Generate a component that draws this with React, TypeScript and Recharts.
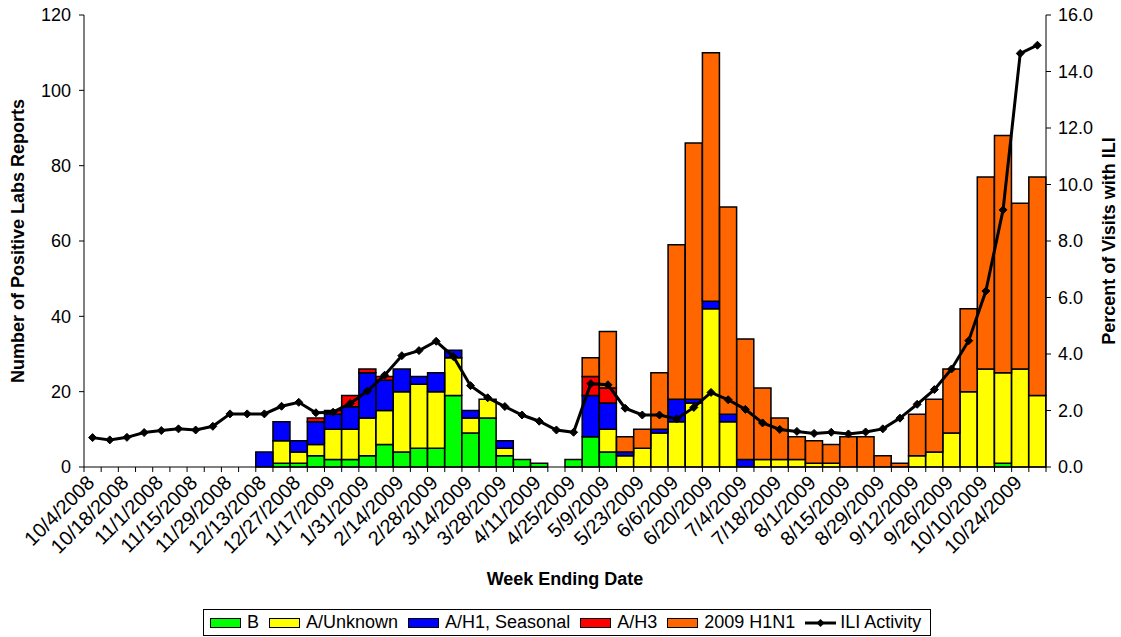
import React from "react";
import {
  ComposedChart,
  Bar,
  Line,
  XAxis,
  YAxis,
  Legend,
  Label,
} from "recharts";

const DATES = [
  "10/4/2008", "10/11/2008", "10/18/2008", "10/25/2008", "11/1/2008", "11/8/2008",
  "11/15/2008", "11/22/2008", "11/29/2008", "12/6/2008", "12/13/2008", "12/20/2008",
  "12/27/2008", "1/10/2009", "1/17/2009", "1/24/2009", "1/31/2009", "2/7/2009",
  "2/14/2009", "2/21/2009", "2/28/2009", "3/7/2009", "3/14/2009", "3/21/2009",
  "3/28/2009", "4/4/2009", "4/11/2009", "4/18/2009", "4/25/2009", "5/2/2009",
  "5/9/2009", "5/16/2009", "5/23/2009", "5/30/2009", "6/6/2009", "6/13/2009",
  "6/20/2009", "6/27/2009", "7/4/2009", "7/11/2009", "7/18/2009", "7/25/2009",
  "8/1/2009", "8/8/2009", "8/15/2009", "8/22/2009", "8/29/2009", "9/5/2009",
  "9/12/2009", "9/19/2009", "9/26/2009", "10/3/2009", "10/10/2009", "10/17/2009",
  "10/24/2009", "10/31/2009",
];

const B_VALUES = [
  0, 0, 0, 0, 0, 0, 0, 0, 0, 0, 0, 1, 1, 3, 2, 2, 3, 6, 4, 5, 5, 19, 9, 13, 3, 2, 1, 0,
  2, 8, 4, 0, 0, 0, 0, 0, 0, 0, 0, 0, 0, 0, 0, 0, 0, 0, 0, 0, 0, 0, 0, 0, 0, 1, 0, 0,
];
const A_UNKNOWN = [
  0, 0, 0, 0, 0, 0, 0, 0, 0, 0, 0, 6, 3, 3, 8, 8, 10, 9, 16, 17, 15, 10, 4, 5, 2, 0, 0, 0,
  0, 0, 6, 3, 5, 9, 12, 17, 42, 12, 0, 2, 2, 2, 1, 1, 0, 0, 0, 0, 3, 4, 9, 20, 26, 24, 26, 19,
];
const A_H1_SEASONAL = [
  0, 0, 0, 0, 0, 0, 0, 0, 0, 0, 4, 5, 3, 6, 4, 6, 12, 8, 6, 2, 5, 2, 2, 0, 2, 0, 0, 0,
  0, 11, 7, 1, 0, 1, 6, 1, 2, 2, 2, 0, 0, 0, 0, 0, 0, 0, 0, 0, 0, 0, 0, 0, 0, 0, 0, 0,
];
const A_H3 = [
  0, 0, 0, 0, 0, 0, 0, 0, 0, 0, 0, 0, 0, 1, 1, 3, 1, 1, 0, 0, 0, 0, 0, 0, 0, 0, 0, 0,
  0, 5, 4, 0, 0, 0, 0, 0, 0, 0, 0, 0, 0, 0, 0, 0, 0, 0, 0, 0, 0, 0, 0, 0, 0, 0, 0, 0,
];
const H1N1_2009 = [
  0, 0, 0, 0, 0, 0, 0, 0, 0, 0, 0, 0, 0, 0, 0, 0, 0, 0, 0, 0, 0, 0, 0, 0, 0, 0, 0, 0,
  0, 5, 15, 4, 5, 15, 41, 68, 66, 55, 32, 19, 11, 6, 6, 5, 8, 8, 3, 1, 11, 14, 17, 22, 51, 63, 44, 58,
];
const ILI = [
  1.04, 0.96, 1.05, 1.22, 1.29, 1.35, 1.31, 1.44, 1.88, 1.88, 1.88, 2.15, 2.29, 1.92,
  1.94, 2.25, 2.69, 3.25, 3.94, 4.12, 4.45, 3.91, 2.88, 2.45, 2.14, 1.84, 1.62, 1.31,
  1.23, 2.95, 2.91, 2.08, 1.84, 1.84, 1.7, 2.11, 2.64, 2.38, 2.04, 1.56, 1.33, 1.26,
  1.19, 1.23, 1.17, 1.24, 1.35, 1.73, 2.22, 2.74, 3.47, 4.47, 6.23, 9.1, 14.64, 14.93,
];

const LEFT_TICKS = [0, 20, 40, 60, 80, 100, 120];
const RIGHT_TICKS = [0, 2, 4, 6, 8, 10, 12, 14, 16];

const SERIES = [
  { key: "b", name: "B", color: "#00FF00" },
  { key: "unk", name: "A/Unknown", color: "#FFFF00" },
  { key: "h1", name: "A/H1, Seasonal", color: "#0000FF" },
  { key: "h3", name: "A/H3", color: "#FF0000" },
  { key: "pdm", name: "2009 H1N1", color: "#FF6600" },
];

const data = DATES.map((d, i) => ({
  date: d,
  b: B_VALUES[i],
  unk: A_UNKNOWN[i],
  h1: A_H1_SEASONAL[i],
  h3: A_H3[i],
  pdm: H1N1_2009[i],
  ili: ILI[i],
}));

const FONT = "'Liberation Sans', Arial, Helvetica, sans-serif";
const CHART_W = 1121;
const CHART_H = 637;
const LEFT_W = 84;
const RIGHT_W = 75;
const STEP = (CHART_W - LEFT_W - RIGHT_W) / DATES.length;

const XTick = (props: any) => {
  const { x, y, payload } = props;
  const i = payload.index;
  const half = STEP / 2;
  const tx = x - 2;
  const ty = y + 12;
  return (
    <g>
      <line x1={x - half} y1={y} x2={x - half} y2={y + 5} stroke="#000" strokeWidth={1} />
      {i === DATES.length - 1 && (
        <line x1={x + half} y1={y} x2={x + half} y2={y + 5} stroke="#000" strokeWidth={1} />
      )}
      {i % 2 === 0 && (
        <text
          x={tx}
          y={ty}
          dy="0.35em"
          transform={`rotate(-45 ${tx} ${ty})`}
          textAnchor="end"
          fontSize={20}
          fontFamily={FONT}
          fill="#000"
        >
          {payload.value}
        </text>
      )}
    </g>
  );
};

const Diamond = (props: any) => {
  const { cx, cy } = props;
  if (cx == null || cy == null) return null;
  const s = 4;
  return (
    <polygon
      points={`${cx},${cy - s} ${cx + s},${cy} ${cx},${cy + s} ${cx - s},${cy}`}
      fill="#000"
      stroke="#000"
    />
  );
};

const LegendContent = () => (
  <div
    style={{
      boxSizing: "border-box",
      width: 728,
      height: 27,
      border: "1px solid #000",
      display: "flex",
      alignItems: "center",
      paddingLeft: 6,
      fontFamily: FONT,
      fontSize: 18,
      color: "#000",
      background: "#fff",
      whiteSpace: "nowrap",
    }}
  >
    {SERIES.map((s) => (
      <div key={s.key} style={{ display: "flex", alignItems: "center", marginRight: 10 }}>
        <span
          style={{
            display: "inline-block",
            boxSizing: "border-box",
            width: 31,
            height: 10,
            background: s.color,
            border: "1.5px solid #000",
            marginRight: 6,
          }}
        />
        <span>{s.name}</span>
      </div>
    ))}
    <div style={{ display: "flex", alignItems: "center" }}>
      <svg width={31} height={12} style={{ marginRight: 4 }}>
        <line x1={0} y1={6} x2={31} y2={6} stroke="#000" strokeWidth={3} />
        <polygon points="15.5,2 19.5,6 15.5,10 11.5,6" fill="#000" />
      </svg>
      <span>ILI Activity</span>
    </div>
  </div>
);

const LeftTitle = (props: any) => {
  const vb = props.viewBox || {};
  const x = 18;
  const y = (vb.y ?? 15) + (vb.height ?? 452) / 2;
  return (
    <text
      x={x}
      y={y}
      dy="0.35em"
      transform={`rotate(-90 ${x} ${y})`}
      textAnchor="middle"
      fontSize={18}
      fontWeight="bold"
      fontFamily={FONT}
      fill="#000"
    >
      Number of Positive Labs Reports
    </text>
  );
};

const RightTitle = (props: any) => {
  const vb = props.viewBox || {};
  const x = 1109;
  const y = (vb.y ?? 15) + (vb.height ?? 452) / 2;
  return (
    <text
      x={x}
      y={y}
      dy="0.35em"
      transform={`rotate(-90 ${x} ${y})`}
      textAnchor="middle"
      fontSize={18}
      fontWeight="bold"
      fontFamily={FONT}
      fill="#000"
    >
      Percent of Visits with ILI
    </text>
  );
};

export default function App() {
  return (
    <div
      style={{
        position: "absolute",
        left: 0,
        top: 0,
        width: CHART_W,
        height: CHART_H,
        background: "#fff",
        fontFamily: FONT,
      }}
    >
      <ComposedChart
        width={CHART_W}
        height={CHART_H}
        data={data}
        margin={{ top: 15, right: 0, left: 0, bottom: 50 }}
        barCategoryGap={0}
        barGap={0}
      >
        <XAxis
          xAxisId={0}
          dataKey="date"
          height={120}
          interval={0}
          tickSize={0}
          tickMargin={0}
          tickLine={false}
          tick={<XTick />}
          axisLine={{ stroke: "#000", strokeWidth: 1 }}
        >
          <Label
            value="Week Ending Date"
            position="insideBottom"
            offset={2}
            style={{ fontSize: 18, fontWeight: "bold", fontFamily: FONT, fill: "#000" }}
          />
        </XAxis>
        <XAxis
          xAxisId="top"
          orientation="top"
          dataKey="date"
          height={0}
          tick={false}
          tickLine={false}
          axisLine={{ stroke: "#000", strokeWidth: 1 }}
        />
        <YAxis
          yAxisId="left"
          width={LEFT_W}
          domain={[0, 120]}
          ticks={LEFT_TICKS}
          interval={0}
          tickSize={5}
          tickMargin={8}
          tick={{ fontSize: 18, fill: "#000", fontFamily: FONT }}
          tickLine={{ stroke: "#000" }}
          axisLine={{ stroke: "#000" }}
          allowDecimals={false}
        >
          <Label content={<LeftTitle />} />
        </YAxis>
        <YAxis
          yAxisId="right"
          orientation="right"
          width={RIGHT_W}
          domain={[0, 16]}
          ticks={RIGHT_TICKS}
          interval={0}
          tickSize={5}
          tickMargin={7}
          tickFormatter={(v: number) => v.toFixed(1)}
          tick={{ fontSize: 18, fill: "#000", fontFamily: FONT }}
          tickLine={{ stroke: "#000" }}
          axisLine={{ stroke: "#000" }}
        >
          <Label content={<RightTitle />} />
        </YAxis>
        {SERIES.map((s) => (
          <Bar
            key={s.key}
            dataKey={s.key}
            name={s.name}
            stackId="labs"
            yAxisId="left"
            xAxisId={0}
            fill={s.color}
            stroke="#000"
            strokeWidth={1.5}
            isAnimationActive={false}
          />
        ))}
        <Line
          dataKey="ili"
          name="ILI Activity"
          yAxisId="right"
          xAxisId={0}
          type="linear"
          stroke="#000"
          strokeWidth={3}
          dot={<Diamond />}
          activeDot={false}
          isAnimationActive={false}
        />
        <Legend
          verticalAlign="middle"
          align="center"
          layout="horizontal"
          content={<LegendContent />}
          wrapperStyle={{ left: 203, top: 609, width: 728, height: 27 }}
        />
      </ComposedChart>
    </div>
  );
}
